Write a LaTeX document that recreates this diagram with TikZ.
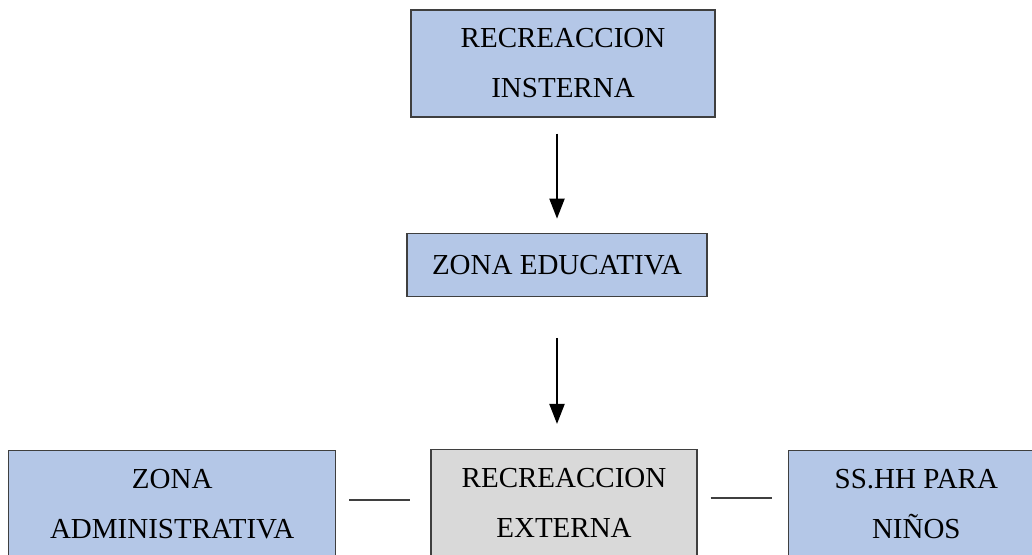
\documentclass[tikz,border=0pt]{standalone}
\usepackage{fontspec}
\setmainfont{Liberation Serif}
\usetikzlibrary{positioning, arrows.meta}

\definecolor{boxblue}{HTML}{B4C7E7}
\definecolor{boxgray}{HTML}{D9D9D9}
\definecolor{edgegray}{HTML}{3F3F3F}

\tikzset{
	zone/.style={rectangle, draw=edgegray, line width=1.3pt, align=center,
		font=\fontsize{29}{50}\selectfont, inner sep=0pt},
	bluezone/.style={zone, fill=boxblue},
	grayzone/.style={zone, fill=boxgray},
	flow/.style={-{Triangle[length=20pt,width=15pt]}, line width=2pt},
	link/.style={draw=edgegray, line width=1.8pt}
}

\begin{document}
\begin{tikzpicture}[x=1pt, y=-1pt]
		\useasboundingbox[clip] (0,0) rectangle (1032,554);
		
		\node[bluezone, minimum width=304pt, minimum height=107pt] (recint) at (563,63.5) {RECREACCION\\INSTERNA};
		
		\node[bluezone, minimum width=300pt, minimum height=63pt, below = 115pt of recint, xshift=-6pt] (edu) {ZONA EDUCATIVA};
		\draw[flow] ([yshift=-16pt]recint.south -| edu.north) -- ([yshift=14pt]edu.north);
		
		\node[grayzone, minimum width=266pt, minimum height=107pt, below = 152pt of edu, xshift=7pt] (recext) {RECREACCION\\EXTERNA};
		\draw[flow] ([yshift=-41pt]edu.south) -- ([yshift=25pt]edu.south |- recext.north);
		
		\node[bluezone, minimum width=327pt, minimum height=107pt, left = 94pt of recext, yshift=-1pt] (admin) {ZONA\\ADMINISTRATIVA};
		\draw[link] ([xshift=13pt,yshift=3.5pt]admin.east |- recext.west) -- ([xshift=-20pt,yshift=3.5pt]recext.west);
		
		\node[bluezone, minimum width=256pt, minimum height=107pt, right = 90pt of recext, yshift=-1pt] (sshh) {SS.HH PARA\\NIÑOS};
		\draw[link] ([xshift=13pt,yshift=5.5pt]recext.east) -- ([xshift=-16pt,yshift=5.5pt]sshh.west |- recext.east);
		
	\end{tikzpicture}
\end{document}
